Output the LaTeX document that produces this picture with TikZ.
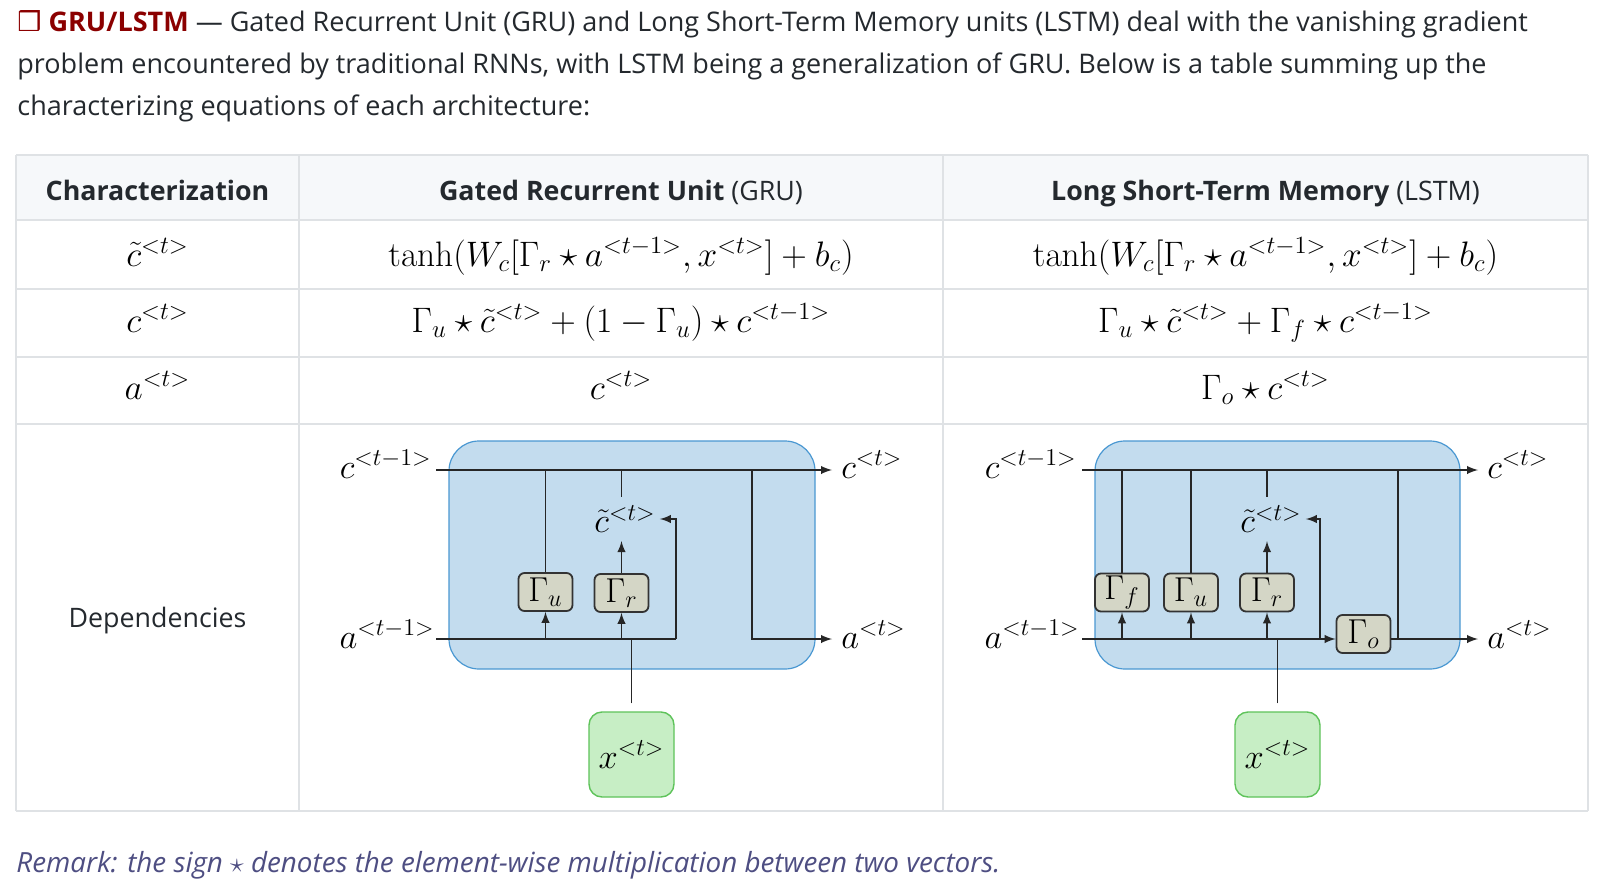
\RequirePackage{fix-cm}
\documentclass[tikz,border=0pt]{standalone}
\usepackage{amsmath}
\usepackage{amssymb}
\usepackage[no-math]{fontspec}
\setmainfont{Open Sans}
\newfontfamily\symfont{DejaVu Sans}
\usepackage{tikz}
\usetikzlibrary{arrows}

\definecolor{txt}{HTML}{24292E}
\definecolor{titlered}{HTML}{8B0000}
\definecolor{remarkblue}{HTML}{4E4E82}
\definecolor{gridgray}{HTML}{DFE2E5}
\definecolor{headfill}{HTML}{F6F8FA}
\definecolor{cellfill}{HTML}{C3DCEE}
\definecolor{celldraw}{HTML}{4A98D2}
\definecolor{gatefill}{HTML}{D4D6C6}
\definecolor{infill}{HTML}{C7EEC5}
\definecolor{indraw}{HTML}{5EC35A}

\newcommand{\bodysize}{\fontsize{13.5}{16}\selectfont}
\newcommand{\headsize}{\fontsize{13.4}{16}\selectfont}
\newcommand{\remarksize}{\fontsize{13.9}{16}\selectfont}
\newcommand{\eqsize}{\fontsize{17.7}{21}\selectfont}
\newcommand{\dgsize}{\fontsize{17.3}{20}\selectfont}

\begin{document}
\begin{tikzpicture}[
x=0.5pt, y=-0.5pt,
font=\bodysize,
textline/.style={inner sep=0pt, anchor=base west, text=txt},
cellentry/.style={inner sep=0pt, anchor=base, text=txt, font=\headsize},
eq/.style={inner sep=0pt, anchor=base, font=\eqsize},
grid/.style={draw=gridgray, line width=0.6pt},
cellbox/.style={fill=cellfill, draw=celldraw, line width=0.6pt, rounded corners=15pt},
gate/.style={draw=black!80, fill=gatefill, line width=0.9pt, rounded corners=3pt,
  minimum width=27pt, minimum height=19pt, inner sep=0pt, font=\dgsize},
inbox/.style={draw=indraw, fill=infill, line width=0.7pt, rounded corners=6.5pt,
  minimum width=42.5pt, minimum height=42.5pt, inner sep=0pt, font=\dgsize},
lbl/.style={inner sep=0pt, font=\dgsize},
wire/.style={line width=0.9pt, draw=black!85},
flow/.style={wire, ->, >=latex}
]
    % Page
    \useasboundingbox (0,0) rectangle (1601,888);
    \fill[white] (0,0) rectangle (1601,888);

    % Intro text
    \node[textline] (intro1) at (17,32) {{\color{titlered}\symfont ❒} \textbf{\color{titlered}GRU/LSTM} — Gated Recurrent Unit (GRU) and Long Short-Term Memory units (LSTM) deal with the vanishing gradient};
    \node[textline] (intro2) at (17,74) {problem encountered by traditional RNNs, with LSTM being a generalization of GRU. Below is a table summing up the};
    \node[textline] (intro3) at (17,116) {characterizing equations of each architecture:};

    % Table
    \fill[headfill] (16,155) rectangle (1588,220);
    \foreach \ry in {155,220,289,357,424,811}
      \draw[grid] (16,\ry) -- (1588,\ry);
    \foreach \cx in {16,299,943,1588}
      \draw[grid] (\cx,155) -- (\cx,811);

    \node[cellentry] (headchar) at (157.5,200) {\textbf{Characterization}};
    \node[cellentry] (headgru) at (621,200) {\textbf{Gated Recurrent Unit} (GRU)};
    \node[cellentry] (headlstm) at (1265.5,200) {\textbf{Long Short-Term Memory} (LSTM)};

    \node[eq] (rowct) at (157.5,266) {$\tilde{c}^{<t>}$};
    \node[eq] (gruct) at (621,266) {$\tanh(W_c[\Gamma_r\star a^{<t-1>},x^{<t>}]+b_c)$};
    \node[eq] (lstmct) at (1265.5,266) {$\tanh(W_c[\Gamma_r\star a^{<t-1>},x^{<t>}]+b_c)$};

    \node[eq] (rowc) at (157.5,332) {$c^{<t>}$};
    \node[eq] (gruc) at (621,332) {$\Gamma_u\star\tilde{c}^{<t>}+(1-\Gamma_u)\star c^{<t-1>}$};
    \node[eq] (lstmc) at (1265.5,332) {$\Gamma_u\star\tilde{c}^{<t>}+\Gamma_f\star c^{<t-1>}$};

    \node[eq] (rowa) at (157.5,399) {$a^{<t>}$};
    \node[eq] (grua) at (621,399) {$c^{<t>}$};
    \node[eq] (lstma) at (1265.5,399) {$\Gamma_o\star c^{<t>}$};

    \node[cellentry] (rowdep) at (157.5,627) {Dependencies};

    % GRU cell
    \draw
      (436,470) coordinate (gc0)
      (832,470) coordinate (gc1)
      (436,639) coordinate (ga0)
      (832,639) coordinate (ga1)
      (675.7,639) coordinate (gloop)
      (752.3,470) coordinate (gout);
    \draw[cellbox] (449,441) rectangle (815,669);

    \node[gate] (gu) at (545.5,592) {$\Gamma_u$};
    \node[gate] (gr) at (621.5,593) {$\Gamma_r$};
    \node[lbl] (gct) at (625,519) {$\tilde{c}^{<t>}$};
    \node[inbox] (gx) at (631.5,754.5) {$x^{<t>}$};

    \draw[flow] (gc0) -- (gc1);
    \draw[wire] (ga0) -- (gloop);
    \draw[wire] (gu.north) -- (gu |- gc0);
    \draw[wire, shorten >=4pt] (gr |- gc0) -- (gr |- gct.north);
    \draw[flow, shorten >=4pt] (gr.north) -- (gr |- gct.south);
    \draw[flow] (gu |- ga0) -- (gu.south);
    \draw[flow] (gr |- ga0) -- (gr.south);
    \draw[flow, shorten >=2pt] (gloop) |- (gct.east);
    \draw[flow] (gout) |- (ga1);
    \draw[wire, shorten <=4pt] (gx.north) -- (gx |- ga0);

    \node[lbl, anchor=base east] (gcin) at (432,478) {$c^{<t-1>}$};
    \node[lbl, anchor=base east] (gain) at (435,648) {$a^{<t-1>}$};
    \node[lbl, anchor=base west] (gcout) at (841,478) {$c^{<t>}$};
    \node[lbl, anchor=base west] (gaout) at (841,648) {$a^{<t>}$};

    % LSTM cell
    \draw
      (1082,470) coordinate (lc0)
      (1478,470) coordinate (lc1)
      (1082,639) coordinate (la0)
      (1478,639) coordinate (la1)
      (1320.3,639) coordinate (lloop)
      (1398.3,470) coordinate (lout);
    \draw[cellbox] (1095,441) rectangle (1460,669);

    \node[gate] (lf) at (1122,592.5) {$\Gamma_f$};
    \node[gate] (lu) at (1191,592.5) {$\Gamma_u$};
    \node[gate] (lr) at (1267,592.5) {$\Gamma_r$};
    \node[gate] (lo) at (1363.5,634) {$\Gamma_o$};
    \node[lbl] (lct) at (1271,519) {$\tilde{c}^{<t>}$};
    \node[inbox] (lx) at (1277.5,754.5) {$x^{<t>}$};

    \draw[flow] (lc0) -- (lc1);
    \draw[flow] (la0) -- (lo.west |- la0);
    \draw[flow] (lo.east |- la1) -- (la1);
    \draw[wire] (lout) -- (lout |- la1);
    \draw[wire] (lf.north) -- (lf |- lc0);
    \draw[wire] (lu.north) -- (lu |- lc0);
    \draw[wire, shorten >=4pt] (lr |- lc0) -- (lr |- lct.north);
    \draw[flow, shorten >=4pt] (lr.north) -- (lr |- lct.south);
    \draw[flow] (lf |- la0) -- (lf.south);
    \draw[flow] (lu |- la0) -- (lu.south);
    \draw[flow] (lr |- la0) -- (lr.south);
    \draw[flow, shorten >=2pt] (lloop) |- (lct.east);
    \draw[wire, shorten <=4pt] (lx.north) -- (lx |- la0);

    \node[lbl, anchor=base east] (lcin) at (1077,478) {$c^{<t-1>}$};
    \node[lbl, anchor=base east] (lain) at (1080,648) {$a^{<t-1>}$};
    \node[lbl, anchor=base west] (lcout) at (1487,478) {$c^{<t>}$};
    \node[lbl, anchor=base west] (laout) at (1487,648) {$a^{<t>}$};

    % Remark
    \node[textline, text=remarkblue, font=\remarksize] (remark) at (16,872) {\itshape Remark: the sign $\star$ denotes the element-wise multiplication between two vectors.};
\end{tikzpicture}
\end{document}
